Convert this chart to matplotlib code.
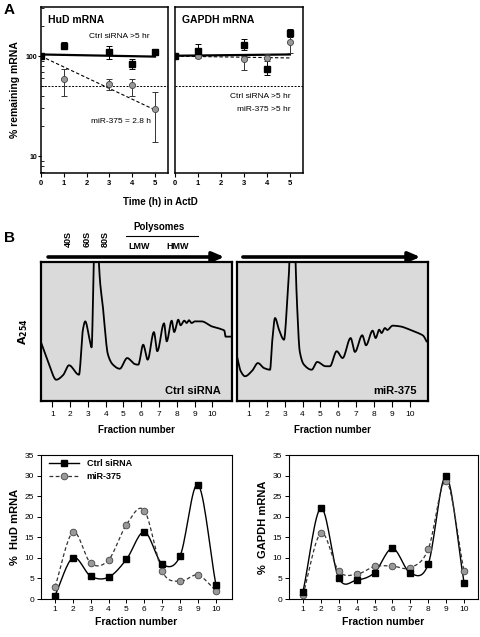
import numpy as np
import matplotlib
matplotlib.use('Agg')
import matplotlib.pyplot as plt
from matplotlib.lines import Line2D

plt.rcParams['font.family'] = ['Liberation Sans', 'DejaVu Sans']

# ---- panel A: mRNA decay in ActD ----
time_h = [0, 1, 3, 4, 5]
hud_ctrl = [100, 127, 109, 83, 110]
hud_ctrl_lo = [100, 117, 93, 74, 103]
hud_ctrl_hi = [100, 137, 127, 93, 117]
hud_mir = [100, 59, 53, 52, 29.5]
hud_mir_lo = [100, 40, 46, 40, 14]
hud_mir_hi = [100, 74, 58.5, 58.5, 44]
gapdh_ctrl = [100, 113, 129, 74, 171]
gapdh_ctrl_lo = [100, 106, 115, 65, 155]
gapdh_ctrl_hi = [100, 131, 148, 93, 189]
gapdh_mir = [100, 100, 93, 96, 139]
gapdh_mir_lo = [100, 95, 72, 90, 108]
gapdh_mir_hi = [100, 105, 100, 104, 182]
fit_t = [0, 5]
hud_ctrl_fit = [104, 99]
hud_mir_fit = [100, 29]
gapdh_ctrl_fit = [101, 104]
gapdh_mir_fit = [100, 96]
half_level = 50

# ---- panel B: A254 profiles ----
ctrl_prof_x = [0.38, 0.8, 1.22, 1.6, 1.94, 2.5, 2.72, 2.85, 3.1, 3.21, 3.3, 3.34, 3.4, 3.56,
               3.62, 3.85, 4.13, 4.41, 4.79, 5.21, 5.63, 5.83, 6.11, 6.36, 6.71, 6.9, 7.28,
               7.43, 7.71, 7.85, 8.08, 8.21, 8.42, 8.55, 8.68, 8.83, 9.02, 9.39, 9.96, 10.42,
               10.67, 10.74, 11.26]
ctrl_prof_y = [41.7, 27, 15.3, 18.5, 25.7, 18.9, 51.3, 57.3, 44.1, 38.6, 79.1, 99.3, 140, 140,
               99.3, 66.9, 33.3, 26.1, 23.2, 30.9, 26.6, 26.1, 40.5, 29.7, 49.6, 35.8, 55.9,
               42.9, 57.8, 49.6, 58.5, 54.5, 57.8, 56.1, 58.1, 56.1, 57.3, 57.3, 53.7, 52.0,
               50.6, 46.3, 46.3]
mir_prof_x = [0.35, 0.54, 0.78, 1.18, 1.5, 1.84, 2.18, 2.3, 2.46, 2.68, 2.96, 3.14, 3.26, 3.32,
              3.55, 3.61, 3.7, 3.84, 4.08, 4.51, 4.82, 5.29, 5.53, 5.91, 6.24, 6.69, 6.93, 7.34,
              7.55, 7.92, 8.09, 8.29, 8.42, 8.61, 8.74, 9.04, 9.45, 10.01, 10.47, 10.75, 10.94]
mir_prof_y = [30.9, 21.4, 17.8, 21.8, 27.3, 23.7, 22.5, 42.9, 59.7, 51.3, 44.1, 71.7, 99.3, 140,
              140, 99.3, 66.9, 35.8, 26.1, 22.5, 28.1, 25.0, 25.0, 35.8, 30.9, 45.3, 35.3, 47.3,
              40.1, 50.6, 45.3, 51.3, 48.9, 52.5, 51.1, 54.2, 53.7, 51.3, 48.9, 47.0, 42.9]

# ---- panel B: distribution in gradient fractions ----
fractions = [1, 2, 3, 4, 5, 6, 7, 8, 9, 10]
hud_ctrl_pct = [0.8, 10.0, 5.55, 5.3, 9.65, 16.3, 8.5, 10.5, 27.8, 3.4]
hud_mir_pct = [2.9, 16.2, 8.7, 9.5, 18.1, 21.5, 6.7, 4.3, 5.8, 2.0]
gapdh_ctrl_pct = [1.7, 22.1, 5.1, 4.6, 6.4, 12.3, 6.3, 8.5, 29.8, 4.0]
gapdh_mir_pct = [1.0, 16.0, 6.8, 6.0, 7.9, 8.0, 7.6, 12.1, 28.7, 6.7]


def smooth(x, y, n=16):
    # Catmull-Rom curve through the points
    x = np.asarray(x, float)
    y = np.asarray(y, float)
    px = np.concatenate([[2 * x[0] - x[1]], x, [2 * x[-1] - x[-2]]])
    py = np.concatenate([[2 * y[0] - y[1]], y, [2 * y[-1] - y[-2]]])
    t = np.linspace(0, 1, n, endpoint=False)
    xs, ys = [], []
    for i in range(1, len(px) - 2):
        for p, out in ((px, xs), (py, ys)):
            p0, p1, p2, p3 = p[i - 1], p[i], p[i + 1], p[i + 2]
            out.append(0.5 * (2 * p1 + (-p0 + p2) * t + (2 * p0 - 5 * p1 + 4 * p2 - p3) * t ** 2
                              + (-p0 + 3 * p1 - 3 * p2 + p3) * t ** 3))
    xs.append([x[-1]])
    ys.append([y[-1]])
    return np.concatenate(xs), np.concatenate(ys)


def pchip(x, y, n=12):
    # monotone cubic through the trace points (no overshoot)
    x = np.asarray(x, float)
    y = np.asarray(y, float)
    h = np.diff(x)
    d = np.diff(y) / h
    m = np.zeros_like(y)
    m[0], m[-1] = d[0], d[-1]
    for k in range(1, len(x) - 1):
        if d[k - 1] * d[k] > 0:
            w1 = 2 * h[k] + h[k - 1]
            w2 = h[k] + 2 * h[k - 1]
            m[k] = (w1 + w2) / (w1 / d[k - 1] + w2 / d[k])
    t = np.linspace(0, 1, n, endpoint=False)
    xs, ys = [], []
    for k in range(len(x) - 1):
        h00 = 2 * t ** 3 - 3 * t ** 2 + 1
        h10 = t ** 3 - 2 * t ** 2 + t
        h01 = -2 * t ** 3 + 3 * t ** 2
        h11 = t ** 3 - t ** 2
        xs.append(x[k] + t * h[k])
        ys.append(h00 * y[k] + h10 * h[k] * m[k] + h01 * y[k + 1] + h11 * h[k] * m[k + 1])
    xs.append([x[-1]])
    ys.append([y[-1]])
    return np.concatenate(xs), np.concatenate(ys)


W, H = 480.0, 637.0


def box(l, r, t, b):
    return [l / W, 1 - b / H, (r - l) / W, (b - t) / H]


fig = plt.figure(figsize=(4.8, 6.37), dpi=100)

# ===== A =====
def decay_panel(ax, title, ctrl, clo, chi, mir, mlo, mhi, cfit, mfit):
    ax.set_yscale('log')
    ax.axhline(half_level, color='black', lw=0.7, ls=(0, (2, 1.5)))
    ax.plot(fit_t, cfit, color='black', lw=1.6)
    ax.plot(fit_t, mfit, color='black', lw=0.8, ls=(0, (3, 2)))
    c = np.array(ctrl); m = np.array(mir)
    ax.errorbar(time_h, ctrl, yerr=[c - np.array(clo), np.array(chi) - c], fmt='none',
                ecolor='black', elinewidth=0.7, capsize=2, capthick=0.7)
    ax.errorbar(time_h, mir, yerr=[m - np.array(mlo), np.array(mhi) - m], fmt='none',
                ecolor='#333333', elinewidth=0.7, capsize=2, capthick=0.7)
    ax.plot(time_h, mir, 'o', ms=4.4, mfc='#999999', mec='#444444', mew=0.6, zorder=4)
    ax.plot(time_h, ctrl, 's', ms=4.0, mfc='black', mec='black', zorder=5)
    ax.set_xlim(0, 5.57)
    ax.set_ylim(6.8, 310)
    ax.set_xticks(range(6))
    ax.tick_params(axis='x', direction='out', length=3, width=0.8, labelsize=5.5, pad=2)
    for lbl in ax.get_xticklabels():
        lbl.set_fontweight('bold')
    for s in ax.spines.values():
        s.set_linewidth(1.1)
    ax.text(0.055, 0.92, title, transform=ax.transAxes, fontsize=7.5, fontweight='bold',
            va='center', ha='left')


axA1 = fig.add_axes(box(41, 168, 7, 173))
decay_panel(axA1, 'HuD mRNA', hud_ctrl, hud_ctrl_lo, hud_ctrl_hi, hud_mir, hud_mir_lo,
            hud_mir_hi, hud_ctrl_fit, hud_mir_fit)
axA1.set_yticks([10, 100])
axA1.set_yticklabels(['10', '100'], fontsize=5, fontweight='bold')
axA1.tick_params(axis='y', which='major', direction='out', length=2, width=0.8, pad=1)
axA1.tick_params(axis='y', which='minor', direction='in', length=2, width=0.6)
axA1.yaxis.set_minor_formatter(plt.NullFormatter())
axA1.set_ylabel('% remaining mRNA', fontsize=7.5, fontweight='bold', labelpad=4)
axA1.text(0.62, 0.821, 'Ctrl siRNA >5 hr', transform=axA1.transAxes, fontsize=6,
          ha='center', va='center')
axA1.text(0.63, 0.313, 'miR-375 = 2.8 h', transform=axA1.transAxes, fontsize=6,
          ha='center', va='center')

axA2 = fig.add_axes(box(175, 303, 7, 173))
decay_panel(axA2, 'GAPDH mRNA', gapdh_ctrl, gapdh_ctrl_lo, gapdh_ctrl_hi, gapdh_mir,
            gapdh_mir_lo, gapdh_mir_hi, gapdh_ctrl_fit, gapdh_mir_fit)
axA2.tick_params(axis='y', which='both', left=False, labelleft=False)
axA2.text(0.9, 0.46, 'Ctrl siRNA >5 hr', transform=axA2.transAxes, fontsize=6,
          ha='right', va='center')
axA2.text(0.9, 0.384, 'miR-375 >5 hr', transform=axA2.transAxes, fontsize=6,
          ha='right', va='center')

fig.text(160 / W, 1 - 202 / H, 'Time (h) in ActD', fontsize=7, fontweight='bold',
         ha='center', va='center')
fig.text(4 / W, 1 - 3 / H, 'A', fontsize=11, fontweight='bold', ha='left', va='top')
fig.text(4 / W, 1 - 231 / H, 'B', fontsize=11, fontweight='bold', ha='left', va='top')

# ===== B profiles =====
def profile_panel(ax, px, py, xlim, label):
    ax.set_facecolor('#dadada')
    sx, sy = pchip(px, py)
    ax.plot(sx, sy, color='black', lw=1.3)
    ax.set_xlim(*xlim)
    ax.set_ylim(0, 100)
    ax.set_yticks([])
    ax.set_xticks(fractions)
    ax.tick_params(axis='x', direction='out', length=4, width=0.8, labelsize=6, pad=3)
    for s in ax.spines.values():
        s.set_linewidth(1.6)
    ax.text(0.94, 0.075, label, transform=ax.transAxes, fontsize=8, fontweight='bold',
            ha='right', va='center')
    ax.set_xlabel('Fraction number', fontsize=7, fontweight='bold', labelpad=5)


axP1 = fig.add_axes(box(41, 232, 262, 401))
profile_panel(axP1, ctrl_prof_x, ctrl_prof_y, (0.365, 11.1), 'Ctrl siRNA')
axP1.set_ylabel(r'$\mathbf{A_{254}}$', fontsize=8, labelpad=8)
axP2 = fig.add_axes(box(237, 428, 262, 401))
profile_panel(axP2, mir_prof_x, mir_prof_y, (0.33, 11.02), 'miR-375')

for ax, x0 in ((axP1, 0.037), (axP2, 0.031)):
    ax.annotate('', xy=(0.96, 1.036), xytext=(x0, 1.036), xycoords='axes fraction',
                arrowprops=dict(arrowstyle='-|>,head_length=0.7,head_width=0.3',
                                color='black', lw=2.6, shrinkA=0, shrinkB=0),
                annotation_clip=False)

for name, xf in (('40S', 0.141), ('60S', 0.241), ('80S', 0.335)):
    axP1.text(xf, 1.165, name, transform=axP1.transAxes, rotation=90, fontsize=6.5,
              fontweight='bold', ha='center', va='center')
axP1.text(0.618, 1.252, 'Polysomes', transform=axP1.transAxes, fontsize=7,
          fontweight='bold', ha='center', va='center')
axP1.plot([0.445, 0.822], [1.187, 1.187], transform=axP1.transAxes, color='black',
          lw=0.8, clip_on=False)
axP1.text(0.513, 1.108, 'LMW', transform=axP1.transAxes, fontsize=6.5, fontweight='bold',
          ha='center', va='center')
axP1.text(0.717, 1.108, 'HMW', transform=axP1.transAxes, fontsize=6.5, fontweight='bold',
          ha='center', va='center')

# ===== B fraction distributions =====
def dist_panel(ax, ctrl, mir, ylabel, xlim):
    sx, sy = smooth(fractions, ctrl)
    ax.plot(sx, sy, color='black', lw=1.0)
    mx, my = smooth(fractions, mir)
    ax.plot(mx, my, color='#333333', lw=0.9, ls=(0, (3, 2)))
    ax.plot(fractions, ctrl, 's', ms=4.5, mfc='black', mec='black', zorder=5)
    ax.plot(fractions, mir, 'o', ms=4.8, mfc='#999999', mec='#444444', mew=0.6, zorder=4)
    ax.set_xlim(*xlim)
    ax.set_ylim(0, 35)
    ax.set_xticks(fractions)
    ax.set_yticks(range(0, 36, 5))
    ax.tick_params(direction='out', length=3, width=0.7, labelsize=6, pad=2)
    for s in ax.spines.values():
        s.set_linewidth(0.8)
    ax.set_xlabel('Fraction number', fontsize=7.5, fontweight='bold', labelpad=3)
    ax.set_ylabel(ylabel, fontsize=8, fontweight='bold', labelpad=3)


axD1 = fig.add_axes(box(41, 232, 455, 599))
dist_panel(axD1, hud_ctrl_pct, hud_mir_pct, '%  HuD mRNA', (0.22, 10.9))
handles = [Line2D([], [], color='black', lw=1.0, marker='s', ms=4.5, mfc='black'),
           Line2D([], [], color='#333333', lw=0.9, ls=(0, (3, 2)), marker='o', ms=4.8,
                  mfc='#999999', mec='#444444', mew=0.6)]
axD1.legend(handles, ['Ctrl siRNA', 'miR-375'], loc='upper left',
            bbox_to_anchor=(0.04, 0.97), frameon=False, handlelength=3.4,
            handletextpad=0.8, borderaxespad=0, borderpad=0, labelspacing=0.45,
            prop={'size': 6.5, 'weight': 'bold'})

axD2 = fig.add_axes(box(289, 478, 455, 599))
dist_panel(axD2, gapdh_ctrl_pct, gapdh_mir_pct, '%  GAPDH mRNA', (0.22, 10.78))

fig.savefig('out.png', dpi=100)
